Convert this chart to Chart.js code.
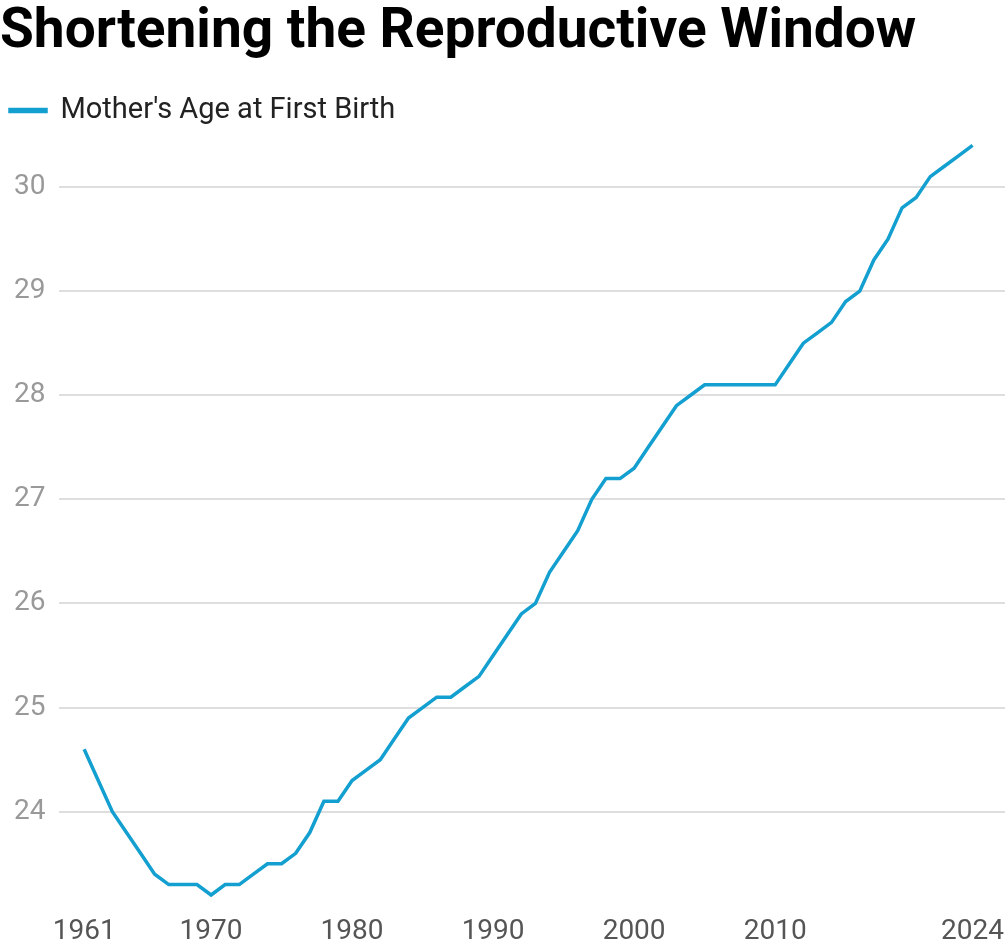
<!DOCTYPE html>
<html>
<head>
<meta charset="utf-8">
<script src="https://cdn.jsdelivr.net/npm/chart.js@4"></script>
<style>
  body { margin: 0; background: #fff; }
  #wrap { width: 1007px; height: 951px; }
</style>
</head>
<body>
<div id="wrap"><canvas id="chart"></canvas></div>
<script>
const years = [];
for (let y = 1961; y <= 2024; y++) years.push(y);
const ages = [
  24.6, 24.3, 24.0, 23.8, 23.6, 23.4, 23.3, 23.3, 23.3, 23.2,
  23.3, 23.3, 23.4, 23.5, 23.5, 23.6, 23.8, 24.1, 24.1, 24.3,
  24.4, 24.5, 24.7, 24.9, 25.0, 25.1, 25.1, 25.2, 25.3, 25.5,
  25.7, 25.9, 26.0, 26.3, 26.5, 26.7, 27.0, 27.2, 27.2, 27.3,
  27.5, 27.7, 27.9, 28.0, 28.1, 28.1, 28.1, 28.1, 28.1, 28.1,
  28.3, 28.5, 28.6, 28.7, 28.9, 29.0, 29.3, 29.5, 29.8, 29.9,
  30.1, 30.2, 30.3, 30.4
];
const xTicks = [1961, 1970, 1980, 1990, 2000, 2010, 2024];
const yTicks = [24, 25, 26, 27, 28, 29, 30];

new Chart(document.getElementById("chart"), {
  type: "line",
  data: {
    datasets: [{
      label: "Mother's Age at First Birth",
      data: years.map((y, i) => ({ x: y, y: ages[i] })),
      borderColor: "#139fcf",
      backgroundColor: "#139fcf",
      borderWidth: 3.5,
      pointRadius: 0,
      tension: 0,
    }],
  },
  options: {
    responsive: true,
    maintainAspectRatio: false,
    animation: false,
    layout: { padding: { left: 0, right: 2, top: 0, bottom: 0 } },
    plugins: {
      title: {
        display: true,
        text: "Shortening the Reproductive Window",
        align: "start",
        color: "#000",
        font: { family: "Roboto", size: 55, weight: "bold" },
        padding: { top: 0, bottom: 20 },
      },
      legend: {
        align: "start",
        labels: {
          color: "#222",
          font: { family: "Roboto", size: 29 },
          boxWidth: 36,
          boxHeight: 2,
          padding: 10,
        },
      },
      tooltip: { enabled: false },
    },
    scales: {
      x: {
        type: "linear",
        min: 1959.25,
        max: 2026.3,
        afterBuildTicks: (axis) => { axis.ticks = xTicks.map(v => ({ value: v })); },
        grid: { display: false },
        border: { display: false },
        ticks: {
          color: "#555",
          font: { family: "Roboto", size: 28 },
          maxRotation: 0,
          autoSkip: false,
          padding: 2,
          callback: (v) => String(v),
        },
      },
      y: {
        min: 23.1,
        max: 30.5,
        afterBuildTicks: (axis) => { axis.ticks = yTicks.map(v => ({ value: v })); },
        grid: { color: "#dedede", lineWidth: 2, drawTicks: false },
        border: { display: false },
        ticks: {
          color: "#999",
          font: { family: "Roboto", size: 28 },
          padding: 14,
          callback: (v) => String(v),
        },
      },
    },
  },
});
</script>
</body>
</html>
